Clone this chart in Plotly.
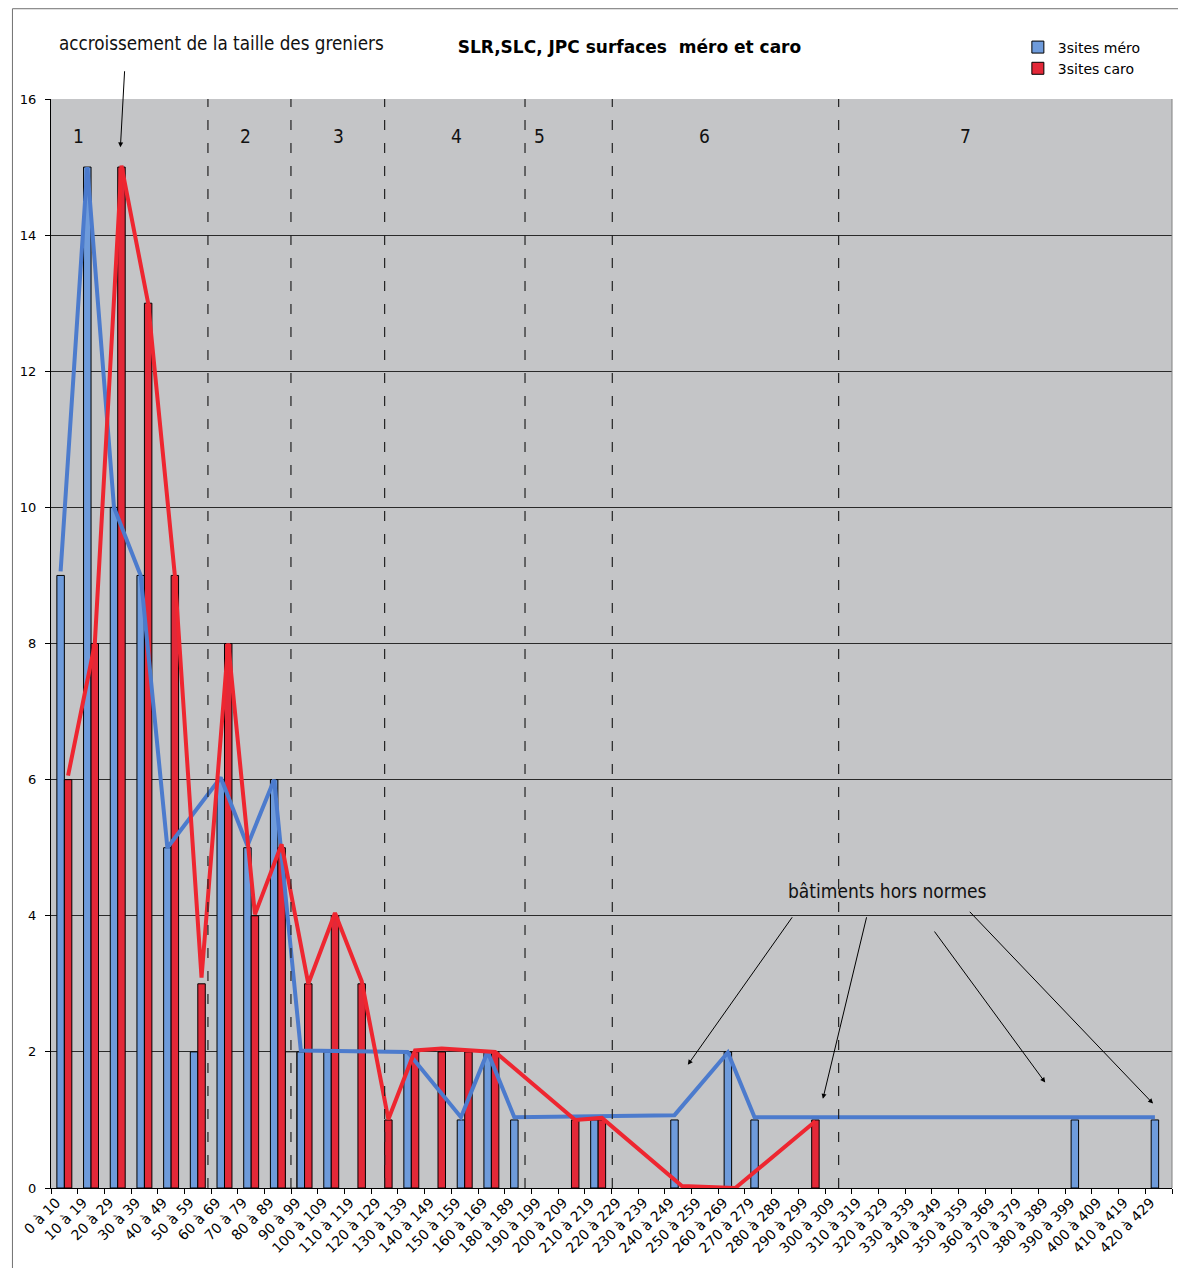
import plotly.graph_objects as go

# classes de surface (m²)
categories = [
    "0 à 10", "10 à 19", "20 à 29", "30 à 39", "40 à 49", "50 à 59", "60 à 69",
    "70 à 79", "80 à 89", "90 à 99", "100 à 109", "110 à 119", "120 à 129",
    "130 à 139", "140 à 149", "150 à 159", "160 à 169", "180 à 189", "190 à 199",
    "200 à 209", "210 à 219", "220 à 229", "230 à 239", "240 à 249", "250 à 259",
    "260 à 269", "270 à 279", "280 à 289", "290 à 299", "300 à 309", "310 à 319",
    "320 à 329", "330 à 339", "340 à 349", "350 à 359", "360 à 369", "370 à 379",
    "380 à 389", "390 à 399", "400 à 409", "410 à 419", "420 à 429",
]

# nombre de bâtiments par classe
mero = [9, 15, 10, 9, 5, 2, 6, 5, 6, 2, 2, 0, 0, 2, 0, 1, 2, 1, 0, 0, 1, 0, 0, 1, 0, 2, 1,
        0, 0, 0, 0, 0, 0, 0, 0, 0, 0, 0, 1, 0, 0, 1]
caro = [6, 8, 15, 13, 9, 3, 8, 4, 5, 3, 4, 3, 1, 2, 2, 2, 2, 0, 0, 1, 1, 0, 0, 0, 0, 0, 0,
        0, 1, 0, 0, 0, 0, 0, 0, 0, 0, 0, 0, 0, 0, 0]

# tracés à main levée (courbes de tendance), None = pas de point
N = None
mero_line = [9.06, 15, 10, 9, 5, N, 6.03, 5.03, 6, 2.02, N, N, N, 2, N, 1.04, 2, 1.04, N, N,
             N, N, N, 1.07, N, 1.99, 1.04, N, N, N, N, N, N, N, N, N, N, N, N, N, N, 1.04]
caro_line = [6.06, 7.99, 15.02, 13, 9, 3.09, 8, 4.02, 5.05, 3, 4.04, 3.04, 1.01, 2.02, 2.05,
             N, 2, N, N, 1, 1.03, N, N, 0.03, N, 0, N, N, 0.98, N, N, N, N, N, N, N, N, N,
             N, N, N, N]

# zones
zone_names = ["1", "2", "3", "4", "5", "6", "7"]
zone_pos = [0.53, 6.8, 10.27, 14.71, 17.79, 23.97, 33.75]
separators = [5.38, 8.49, 12.0, 17.26, 20.53, 29.01]

idx = list(range(len(categories)))
BLUE, RED = "#6E9BDB", "#E32838"
PLOT_BG = "#C4C5C7"
FONT = "DejaVu Sans"
NARROW = "DejaVu Sans Condensed, Liberation Sans Narrow, DejaVu Sans"

fig = go.Figure()

fig.add_trace(go.Bar(
    x=idx, y=[v if v else None for v in mero], name="3sites méro",
    marker=dict(color=BLUE, line=dict(color="black", width=1)),
))
fig.add_trace(go.Bar(
    x=idx, y=[v if v else None for v in caro], name="3sites caro",
    marker=dict(color=RED, line=dict(color="black", width=1)),
))
fig.add_trace(go.Scatter(
    x=[i - 0.14 for i in idx], y=mero_line, mode="lines", connectgaps=True,
    line=dict(color="#4C7BCD", width=4), showlegend=False,
))
fig.add_trace(go.Scatter(
    x=[i + 0.14 for i in idx], y=caro_line, mode="lines", connectgaps=True,
    line=dict(color="#EE2630", width=4), showlegend=False,
))

shapes = []
# petit cadre vide entre 80 et 90
shapes.append(dict(type="rect", xref="x", yref="y", x0=8.28, x1=8.705, y0=0, y1=2,
                   layer="below", fillcolor=PLOT_BG, line=dict(color="#333", width=1)))
for xs in separators:
    shapes.append(dict(type="line", xref="x", yref="y", x0=xs, x1=xs, y0=0, y1=16,
                       line=dict(color="#222", width=1.2, dash="10px,13px")))
# bord droit du graphique et cadre extérieur
shapes.append(dict(type="line", xref="paper", yref="paper", x0=1, x1=1, y0=0, y1=1,
                   line=dict(color="#808080", width=1)))
shapes.append(dict(type="line", xref="paper", yref="paper", x0=-0.0344, x1=1.02,
                   y0=1.0829, y1=1.0829, line=dict(color="#707070", width=1)))
shapes.append(dict(type="line", xref="paper", yref="paper", x0=-0.0344, x1=-0.0344,
                   y0=1.0829, y1=-0.08, line=dict(color="#707070", width=1)))

annotations = []
for name, xp in zip(zone_names, zone_pos):
    annotations.append(dict(x=xp, y=15.45, xref="x", yref="y", text=name, showarrow=False,
                            font=dict(family=NARROW, size=19, color="#111")))

annotations.append(dict(x=0.1517, y=1.0514, xref="paper", yref="paper", xanchor="center",
                        yanchor="middle", text="accroissement de la taille des greniers",
                        showarrow=False, font=dict(family=NARROW, size=18.7, color="#111")))
annotations.append(dict(x=2.10, y=15.29, ax=2.26, ay=16.43, xref="x", yref="y",
                        axref="x", ayref="y", text="", showarrow=True, arrowhead=2,
                        arrowsize=1, arrowwidth=1, arrowcolor="black"))

annotations.append(dict(x=30.83, y=4.36, xref="x", yref="y", text="bâtiments hors normes",
                        showarrow=False, font=dict(family=NARROW, size=19, color="#111")))
# flèches "hors normes" : (tête x, tête y, queue x, queue y)
for hx, hy, tx, ty in [(23.36, 1.81, 27.31, 4.0), (28.42, 1.31, 30.07, 4.0),
                       (36.75, 1.55, 32.56, 3.79), (40.79, 1.24, 33.87, 4.08)]:
    annotations.append(dict(x=hx, y=hy, ax=tx, ay=ty, xref="x", yref="y", axref="x",
                            ayref="y", text="", showarrow=True, arrowhead=2, arrowsize=1,
                            arrowwidth=1, arrowcolor="black"))

# la page ajoute 8 px de marge autour de la figure
fig.update_layout(
    width=1178, height=1260,
    margin=dict(l=39, r=14, t=91, b=79),
    paper_bgcolor="white", plot_bgcolor=PLOT_BG,
    barmode="group", bargap=0.44, bargroupgap=0,
    font=dict(family=FONT, size=13, color="black"),
    title=dict(text="<b>SLR,SLC, JPC surfaces  méro et caro</b>", x=0.516, xref="paper",
               y=1 - 39 / 1260, yanchor="middle", xanchor="center",
               font=dict(family=FONT, size=17, color="black")),
    legend=dict(x=0.8625, y=1.062, xanchor="left", yanchor="top", bgcolor="rgba(0,0,0,0)",
                font=dict(family=FONT, size=14), tracegroupgap=0, itemwidth=30),
    shapes=shapes, annotations=annotations,
    xaxis=dict(range=[-0.5, len(categories) - 0.5], tickmode="array",
               tickvals=[i - 0.3 for i in idx], ticktext=categories, tickangle=-45,
               ticks="outside", ticklen=0,
               showgrid=False, zeroline=False, showline=True, linecolor="black",
               tickfont=dict(family=FONT, size=14),
               minor=dict(tickvals=[i - 0.5 for i in range(len(categories) + 1)],
                          ticks="outside", ticklen=5, tickcolor="black", showgrid=False)),
    yaxis=dict(range=[0, 16], tickvals=list(range(0, 17, 2)), ticks="outside", ticklen=5,
               tickcolor="black", showline=True, linecolor="black", showgrid=True,
               gridcolor="#2a2a2a", gridwidth=1, zeroline=False, ticklabelstandoff=6,
               tickfont=dict(family=FONT, size=13)),
)

fig.write_html("out.html")
